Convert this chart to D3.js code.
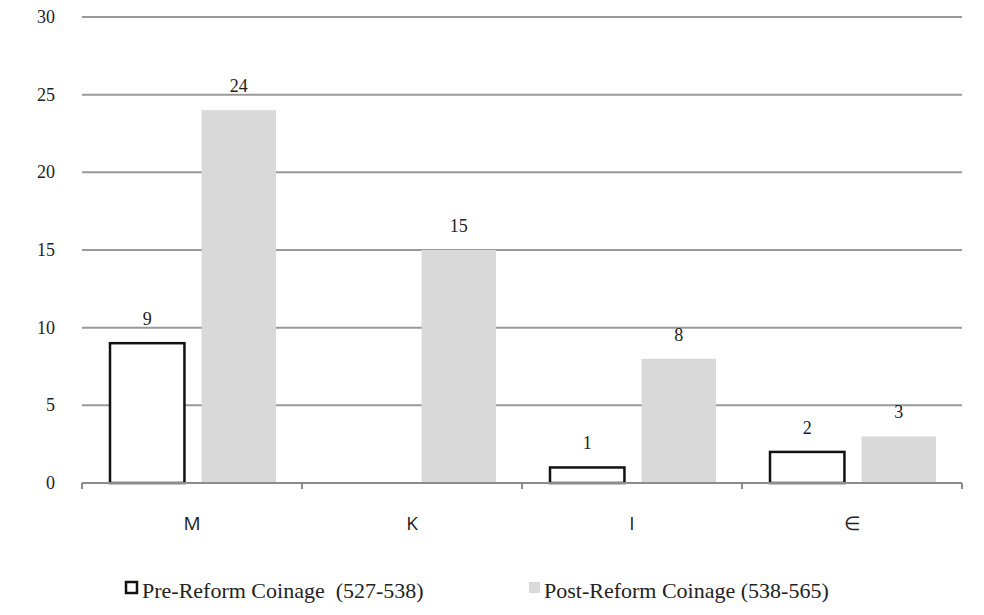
<!DOCTYPE html>
<html><head><meta charset="utf-8">
<script src="https://cdn.jsdelivr.net/npm/d3@7"></script>
<style>body{margin:0;background:#fff}</style></head>
<body><svg id="c" width="984" height="615"></svg>
<script>
const categories = ["M","K","I","\u2208"];
const preValues = [9,0,1,2];
const postValues = [24,15,8,3];
const yTicks = [0,5,10,15,20,25,30];
const seriesNames = ["Pre-Reform Coinage\u00A0\u00A0(527-538)","Post-Reform Coinage (538-565)"];

const svg = d3.select("#c");
const L=82,R=962,T=17,B=483;
const x = d3.scaleBand().domain(categories).range([L,R]);
const y = d3.scaleLinear().domain([0,30]).range([B,T]);
const serif = "'Liberation Serif', 'DejaVu Serif', serif";

svg.append("g").selectAll("line").data(yTicks.filter(d=>d>0)).join("line")
  .attr("x1",L).attr("x2",R).attr("y1",d=>y(d)).attr("y2",d=>y(d))
  .attr("stroke","#999").attr("stroke-width",2);
svg.append("g").selectAll("text").data(yTicks).join("text")
  .attr("x",55).attr("y",d=>y(d)+6).attr("text-anchor","end")
  .attr("font-family",serif).attr("font-size",18).attr("fill","#222").text(d=>d);

const bw = x.bandwidth();
const x2 = d3.scaleBand().domain([0,1]).range([28,194]).paddingInner(0.187);
svg.append("g").selectAll("rect").data(categories.map((c,i)=>({c,v:preValues[i]})).filter(d=>d.v>0)).join("rect")
  .attr("x",d=>x(d.c)+x2(0)).attr("width",x2.bandwidth())
  .attr("y",d=>y(d.v)).attr("height",d=>B-y(d.v))
  .attr("fill","#fff").attr("stroke","#111").attr("stroke-width",2.5);
svg.append("g").selectAll("rect").data(categories.map((c,i)=>({c,v:postValues[i]}))).join("rect")
  .attr("x",d=>x(d.c)+x2(1)).attr("width",x2.bandwidth())
  .attr("y",d=>y(d.v)).attr("height",d=>B-y(d.v)).attr("fill","#d9d9d9");
const lab=(vals,s)=>svg.append("g").selectAll("text").data(categories.map((c,i)=>({c,v:vals[i]})).filter(d=>d.v>0)).join("text")
  .attr("x",d=>x(d.c)+x2(s)+x2.bandwidth()/2).attr("y",d=>y(d.v)-18).attr("text-anchor","middle")
  .attr("font-family",serif).attr("font-size",18).attr("fill","#222").text(d=>d.v);
lab(preValues,0); lab(postValues,1);

svg.append("line").attr("x1",L).attr("x2",R).attr("y1",B).attr("y2",B).attr("stroke","#8c8c8c").attr("stroke-width",2);
svg.append("g").selectAll("line").data(categories.map(c=>x(c)).concat([R])).join("line")
  .attr("x1",d=>d).attr("x2",d=>d).attr("y1",B).attr("y2",B+6).attr("stroke","#8c8c8c").attr("stroke-width",2);
svg.append("g").selectAll("text").data(categories).join("text")
  .attr("x",d=>x(d)+bw/2).attr("y",530).attr("text-anchor","middle")
  .attr("font-family","'Open Sans', sans-serif").attr("font-size",19).attr("fill","#222").text(d=>d);

svg.append("rect").attr("x",126).attr("y",582).attr("width",11).attr("height",11).attr("fill","#fff").attr("stroke","#111").attr("stroke-width",2.5);
svg.append("text").attr("x",142).attr("y",598).attr("font-family",serif).attr("font-size",22).attr("fill","#222").text(seriesNames[0]);
svg.append("rect").attr("x",529).attr("y",582).attr("width",11).attr("height",11).attr("fill","#d9d9d9");
svg.append("text").attr("x",544).attr("y",598).attr("font-family",serif).attr("font-size",22).attr("fill","#222").text(seriesNames[1]);
</script></body></html>
